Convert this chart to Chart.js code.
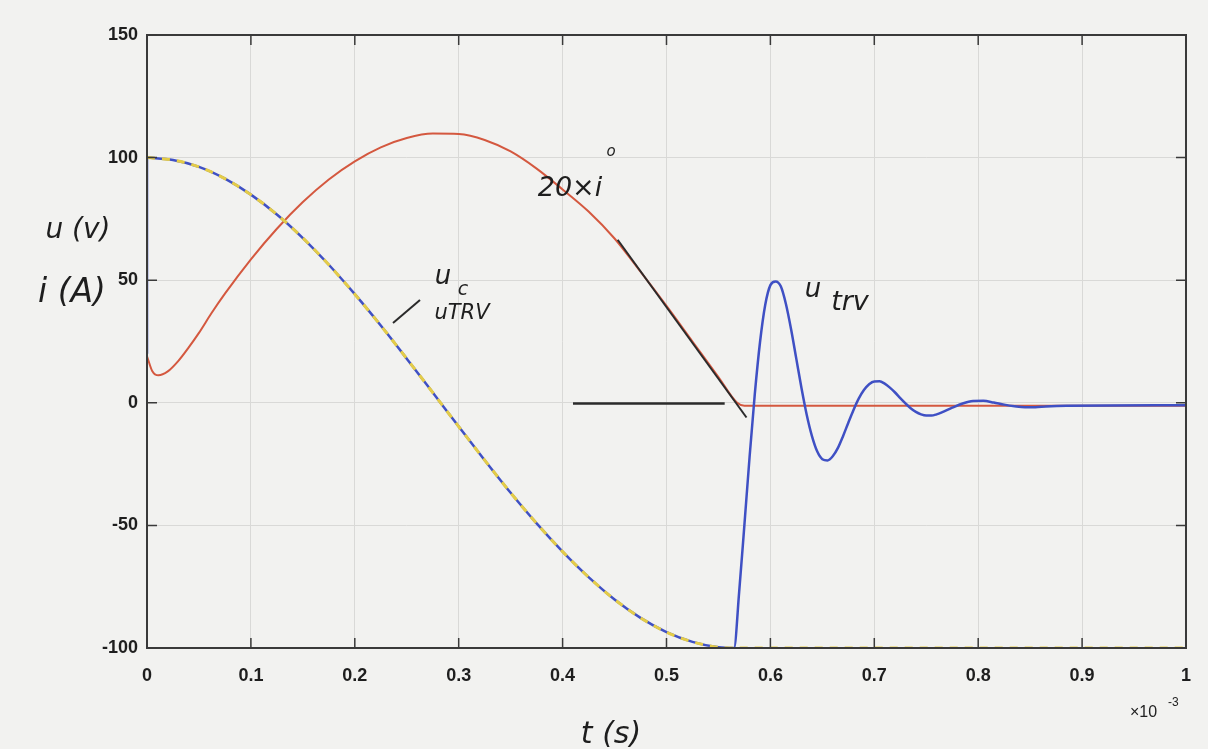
<!DOCTYPE html>
<html>
<head>
<meta charset="utf-8">
<title>u_TRV</title>
<script src="https://cdn.jsdelivr.net/npm/chart.js"></script>
<style>
  body { margin: 0; background: #f2f2f0; }
  #wrap { width: 1208px; height: 749px; }
</style>
</head>
<body>
<div id="wrap"><canvas id="trvChart" width="1208" height="749"></canvas></div>
<script>
// time in ms (axis shows x 10^-3 s)
const ucTime = [0, 0.025, 0.05, 0.075, 0.1, 0.125, 0.15, 0.175, 0.2, 0.225, 0.25, 0.275, 0.3, 0.325, 0.35, 0.375, 0.4, 0.425, 0.45, 0.475, 0.5, 0.525, 0.55, 0.565, 1.0];
const ucVolts = [100, 99, 96.2, 91.4, 84.9, 76.8, 67.2, 56.3, 44.3, 31.5, 18, 4.2, -9.7, -23.4, -36.7, -49.2, -60.7, -71.1, -80.2, -87.7, -93.5, -97.5, -99.7, -100, -100];

// blue trace after the current zero
const trvTime = [0.57, 0.575, 0.58, 0.585, 0.59, 0.595, 0.6, 0.605, 0.61, 0.615, 0.62, 0.625, 0.63, 0.635, 0.64, 0.645, 0.65, 0.655, 0.66, 0.665, 0.67, 0.675, 0.68, 0.685, 0.69, 0.695, 0.7, 0.705, 0.71, 0.715, 0.72, 0.725, 0.73, 0.735, 0.74, 0.745, 0.75, 0.755, 0.76, 0.765, 0.775, 0.785, 0.795, 0.805, 0.815, 0.825, 0.835, 0.845, 0.855, 0.865, 0.885, 1.0];
const trvVolts = [-76.8, -49.7, -21.9, 3.6, 24.7, 39.9, 48, 49.5, 47.5, 40.2, 29.8, 17.8, 5.8, -5, -13.6, -19.8, -23, -23.5, -21.8, -18.4, -13.5, -8.1, -2.9, 1.7, 5.2, 7.6, 8.7, 8.75, 7.8, 6.2, 4.2, 1.9, -0.25, -2.2, -3.7, -4.7, -5.2, -5.2, -4.7, -3.9, -2, -0.3, 0.7, 0.8, 0.1, -0.75, -1.4, -1.8, -1.8, -1.5, -1.2, -1];
const trvJump = [20, 100];

// 20 x i
const curTime = [0, 0.005, 0.011, 0.02, 0.03, 0.04, 0.05, 0.062, 0.075, 0.1, 0.125, 0.15, 0.175, 0.2, 0.225, 0.25, 0.275, 0.3, 0.325, 0.35, 0.375, 0.4, 0.425, 0.45, 0.475, 0.5, 0.525, 0.55, 0.568, 0.575, 1.0];
const curAmps = [19, 13, 11.2, 12.8, 17, 22.5, 28.5, 36.5, 44.5, 58.5, 71, 81.9, 91.1, 98.5, 104.2, 108, 109.8, 109.6, 107.2, 102.5, 95.5, 87, 78, 67, 53.5, 39.5, 25, 10.5, 0, -1.2, -1.2];

// hand drawn marks on the print
const tangentTime = [0.453, 0.577];
const tangentVal = [66.5, -6];
const zeroMarkTime = [0.41, 0.556];
const zeroMarkVal = [-0.3, -0.3];

const xTicks = [0, 0.1, 0.2, 0.3, 0.4, 0.5, 0.6, 0.7, 0.8, 0.9, 1];
const yTicks = [-100, -50, 0, 50, 100, 150];

const toPoints = (xs, ys) => xs.map((x, i) => ({ x: x, y: ys[i] }));

const bluePoints = toPoints(ucTime.slice(0, 24), ucVolts.slice(0, 24)).concat(toPoints(trvTime, trvVolts));

const notes = [
  { text: 'u (v)', x: 78, y: 231, size: 28 },
  { text: 'i (A)', x: 72, y: 293, size: 33 },
  { text: 't (s)', x: 611, y: 735, size: 30 },
  { text: 'u', x: 443, y: 277, size: 26 },
  { text: 'c', x: 463, y: 290, size: 19 },
  { text: 'uTRV', x: 462, y: 314, size: 21 },
  { text: '20×i', x: 570, y: 189, size: 27 },
  { text: 'o', x: 611, y: 152, size: 15 },
  { text: 'u', x: 813, y: 290, size: 26 },
  { text: 'trv', x: 850, y: 303, size: 27 }
];

const paperPlugin = {
  id: 'paper',
  beforeDraw: (chart) => {
    const ctx = chart.ctx;
    ctx.save();
    ctx.fillStyle = '#f2f2f0';
    ctx.fillRect(0, 0, chart.width, chart.height);
    ctx.restore();
  }
};

// box, inward ticks and the hand written notes
const framePlugin = {
  id: 'frame',
  afterDraw: (chart) => {
    const ctx = chart.ctx;
    const a = chart.chartArea;
    const xs = chart.scales.x;
    const ys = chart.scales.y;
    ctx.save();
    ctx.strokeStyle = '#3a3a3a';
    ctx.lineWidth = 2;
    ctx.strokeRect(a.left, a.top, a.right - a.left, a.bottom - a.top);
    ctx.lineWidth = 1.5;
    ctx.beginPath();
    xTicks.forEach(t => {
      const px = xs.getPixelForValue(t);
      ctx.moveTo(px, a.bottom); ctx.lineTo(px, a.bottom - 10);
      ctx.moveTo(px, a.top); ctx.lineTo(px, a.top + 10);
    });
    yTicks.forEach(v => {
      const py = ys.getPixelForValue(v);
      ctx.moveTo(a.left, py); ctx.lineTo(a.left + 10, py);
      ctx.moveTo(a.right, py); ctx.lineTo(a.right - 10, py);
    });
    ctx.stroke();

    // x 10^-3
    ctx.fillStyle = '#222';
    ctx.font = '16px "Liberation Sans", Arial, sans-serif';
    ctx.textAlign = 'left';
    ctx.textBaseline = 'middle';
    ctx.fillText('×10', 1130, 713);
    ctx.font = '12px "Liberation Sans", Arial, sans-serif';
    ctx.fillText('-3', 1168, 703);

    ctx.fillStyle = '#1e1e1e';
    ctx.textAlign = 'center';
    notes.forEach(n => {
      ctx.font = 'italic ' + n.size + 'px "DejaVu Sans", sans-serif';
      ctx.fillText(n.text, n.x, n.y);
    });
    // little slash pointing at the dashed curve
    ctx.strokeStyle = '#2a2a2a';
    ctx.lineWidth = 2;
    ctx.beginPath();
    ctx.moveTo(393, 323);
    ctx.lineTo(420, 300);
    ctx.stroke();
    ctx.restore();
  }
};

const tickFont = { family: '"Liberation Sans", Arial, sans-serif', size: 18, weight: 'bold' };

new Chart(document.getElementById('trvChart'), {
  type: 'line',
  data: {
    datasets: [
      {
        label: 'marks',
        data: toPoints(tangentTime, tangentVal),
        borderColor: '#2b2b2b',
        borderWidth: 2,
        pointRadius: 0,
        order: 0
      },
      {
        label: 'marks 2',
        data: toPoints(zeroMarkTime, zeroMarkVal),
        borderColor: '#2b2b2b',
        borderWidth: 2.5,
        pointRadius: 0,
        order: 0
      },
      {
        label: 'uc',
        data: toPoints(ucTime, ucVolts),
        borderColor: '#e4cc48',
        borderWidth: 3,
        borderDash: [8, 7],
        pointRadius: 0,
        cubicInterpolationMode: 'monotone',
        order: 1
      },
      {
        label: 'uTRV',
        data: bluePoints,
        borderColor: '#3f50c4',
        borderWidth: 2.5,
        pointRadius: 0,
        cubicInterpolationMode: 'monotone',
        order: 2
      },
      {
        label: 'uTRV start',
        data: toPoints([0, 0], trvJump),
        borderColor: '#3f50c4',
        borderWidth: 2.5,
        pointRadius: 0,
        order: 2
      },
      {
        label: '20 x i',
        data: toPoints(curTime, curAmps),
        borderColor: '#d4583f',
        borderWidth: 2,
        pointRadius: 0,
        cubicInterpolationMode: 'monotone',
        order: 3
      }
    ]
  },
  options: {
    responsive: false,
    animation: false,
    layout: { padding: { top: 35, right: 21, left: 0, bottom: 0 } },
    plugins: {
      legend: { display: false },
      tooltip: { enabled: false }
    },
    scales: {
      x: {
        type: 'linear',
        min: 0,
        max: 1,
        afterFit: (scale) => { scale.height = 101; },
        afterBuildTicks: (scale) => { scale.ticks = xTicks.map(v => ({ value: v })); },
        grid: { color: '#d9d9d7', lineWidth: 1, drawTicks: false },
        border: { display: false },
        ticks: {
          padding: 17,
          color: '#1e1e1e',
          font: tickFont,
          maxRotation: 0,
          callback: (v) => String(Math.round(v * 10) / 10)
        }
      },
      y: {
        min: -100,
        max: 150,
        afterFit: (scale) => { scale.width = 147; },
        afterBuildTicks: (scale) => { scale.ticks = yTicks.map(v => ({ value: v })); },
        grid: { color: '#d9d9d7', lineWidth: 1, drawTicks: false },
        border: { display: false },
        ticks: {
          padding: 9,
          color: '#1e1e1e',
          font: tickFont
        }
      }
    }
  },
  plugins: [paperPlugin, framePlugin]
});
</script>
</body>
</html>
